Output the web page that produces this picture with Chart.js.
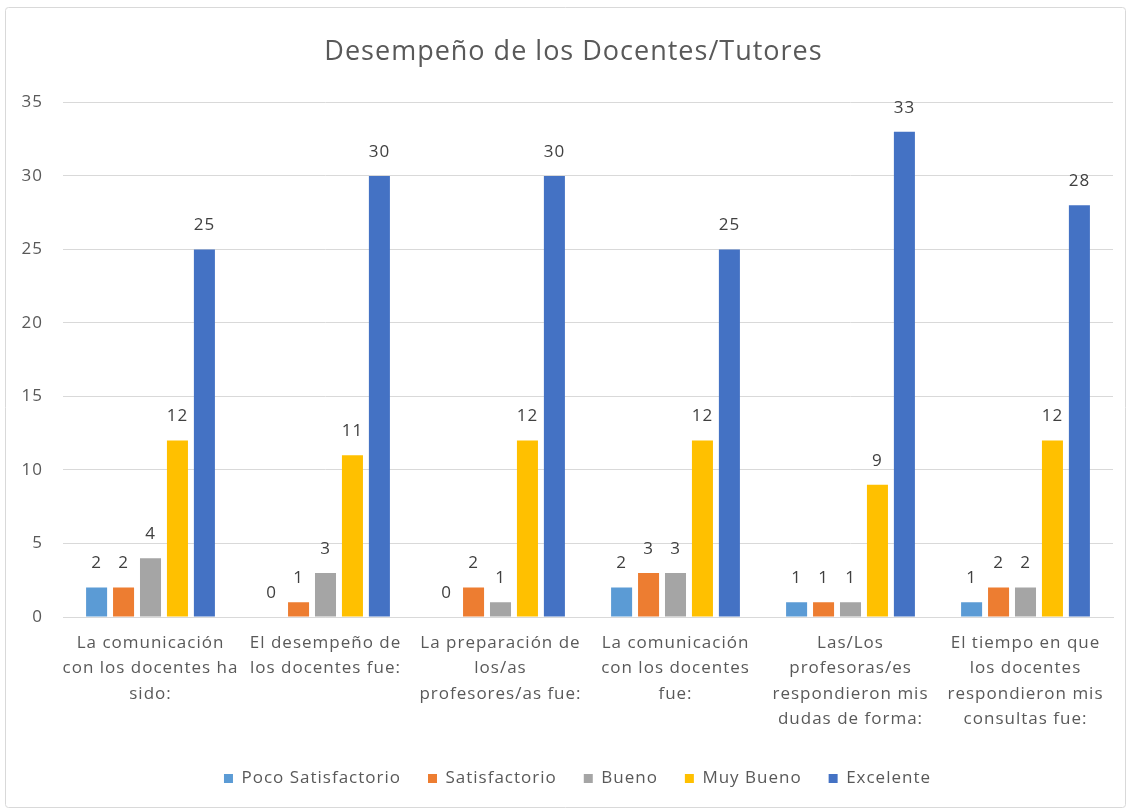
<!DOCTYPE html>
<html>
<head>
<meta charset="utf-8">
<script src="https://cdn.jsdelivr.net/npm/chart.js@4.4.1/dist/chart.umd.min.js"></script>
<style>
html,body{margin:0;padding:0;background:#fff;}
#wrap{position:absolute;left:0;top:0;width:1131px;height:811px;}
</style>
</head>
<body>
<div id="wrap"><canvas id="c" width="1131" height="811"></canvas></div>
<script>
const categories = [
  ["La comunicación","con los docentes ha","sido:"],
  ["El desempeño de","los docentes fue:"],
  ["La preparación de","los/as","profesores/as fue:"],
  ["La comunicación","con los docentes","fue:"],
  ["Las/Los","profesoras/es","respondieron mis","dudas de forma:"],
  ["El tiempo en que","los docentes","respondieron mis","consultas fue:"]
];
const seriesNames = ["Poco Satisfactorio","Satisfactorio","Bueno","Muy Bueno","Excelente"];
const pocoSatisfactorio = [2, 0, 0, 2, 1, 1];
const satisfactorio     = [2, 1, 2, 3, 1, 2];
const bueno             = [4, 3, 1, 3, 1, 2];
const muyBueno          = [12, 11, 12, 12, 9, 12];
const excelente         = [25, 30, 30, 25, 33, 28];
const yTicks = [0, 5, 10, 15, 20, 25, 30, 35];
const colors = ["#5B9BD5","#ED7D31","#A5A5A5","#FFC000","#4472C4"];
const FONT = "'Open Sans', 'Noto Sans', sans-serif";

const seriesValues = [pocoSatisfactorio, satisfactorio, bueno, muyBueno, excelente];

const spacingPlugin = {
  id: 'letterSpacing',
  beforeUpdate(chart) { chart.ctx.letterSpacing = '1px'; },
  beforeLayout(chart) { chart.ctx.letterSpacing = '1px'; },
  afterLayout(chart) {
    if (chart.titleBlock) { chart.titleBlock.left += 17; chart.titleBlock.right += 17; }
    if (chart.legend) { chart.legend.left += 21; chart.legend.right += 21; }
  },
  beforeDraw(chart) { chart.ctx.letterSpacing = '1px'; }
};

const borderPlugin = {
  id: 'outerBorder',
  beforeDraw(chart) {
    const ctx = chart.ctx;
    ctx.save();
    ctx.fillStyle = '#fff';
    ctx.fillRect(0, 0, chart.width, chart.height);
    ctx.strokeStyle = '#d9d9d9';
    ctx.lineWidth = 1;
    ctx.beginPath();
    ctx.roundRect(5.5, 7.5, 1120, 800, 3);
    ctx.stroke();
    ctx.restore();
  }
};

const labelPlugin = {
  id: 'valueLabels',
  afterDatasetsDraw(chart) {
    const ctx = chart.ctx;
    ctx.save();
    ctx.font = "17px " + FONT;
    ctx.fillStyle = '#404040';
    ctx.textAlign = 'center';
    ctx.textBaseline = 'middle';
    chart.data.datasets.forEach((ds, i) => {
      const meta = chart.getDatasetMeta(i);
      meta.data.forEach((bar, j) => {
        ctx.fillText(String(ds.data[j]), bar.x, bar.y - 24);
      });
    });
    ctx.restore();
  }
};

new Chart(document.getElementById('c'), {
  type: 'bar',
  data: {
    labels: categories,
    datasets: seriesNames.map((n, i) => ({
      label: n,
      data: seriesValues[i],
      backgroundColor: colors[i],
      borderWidth: 0,
      categoryPercentage: 0.77,
      barPercentage: 0.78
    }))
  },
  options: {
    responsive: false,
    animation: false,
    devicePixelRatio: 1,
    layout: { padding: { left: 0, right: 18, top: 0, bottom: 14 } },
    plugins: {
      title: {
        display: true,
        text: 'Desempeño de los Docentes/Tutores',
        color: '#595959',
        font: { family: FONT, size: 27, weight: 'normal' },
        padding: { top: 36, bottom: 34 }
      },
      legend: {
        position: 'bottom',
        labels: {
          color: '#595959',
          font: { family: FONT, size: 17 },
          usePointStyle: true,
          pointStyle: 'rect',
          boxWidth: 9,
          boxHeight: 9,
          padding: 27
        }
      },
      tooltip: { enabled: false }
    },
    scales: {
      x: {
        grid: { display: false, drawTicks: false },
        border: { display: true, color: '#d9d9d9', width: 1 },
        ticks: {
          color: '#595959',
          font: { family: FONT, size: 17, lineHeight: 1.5 },
          padding: 13,
          maxRotation: 0,
          autoSkip: false
        },
        afterFit(s) { s.height = 126; }
      },
      y: {
        min: 0,
        max: 35,
        afterBuildTicks(s) { s.ticks = yTicks.map(v => ({ value: v })); },
        grid: { color: '#d9d9d9', lineWidth: 1, drawTicks: false },
        border: { display: false },
        ticks: {
          color: '#595959',
          font: { family: FONT, size: 17 },
          padding: 20
        },
        afterFit(s) { s.width = 63; }
      }
    }
  },
  plugins: [spacingPlugin, borderPlugin, labelPlugin]
});
</script>
</body>
</html>
